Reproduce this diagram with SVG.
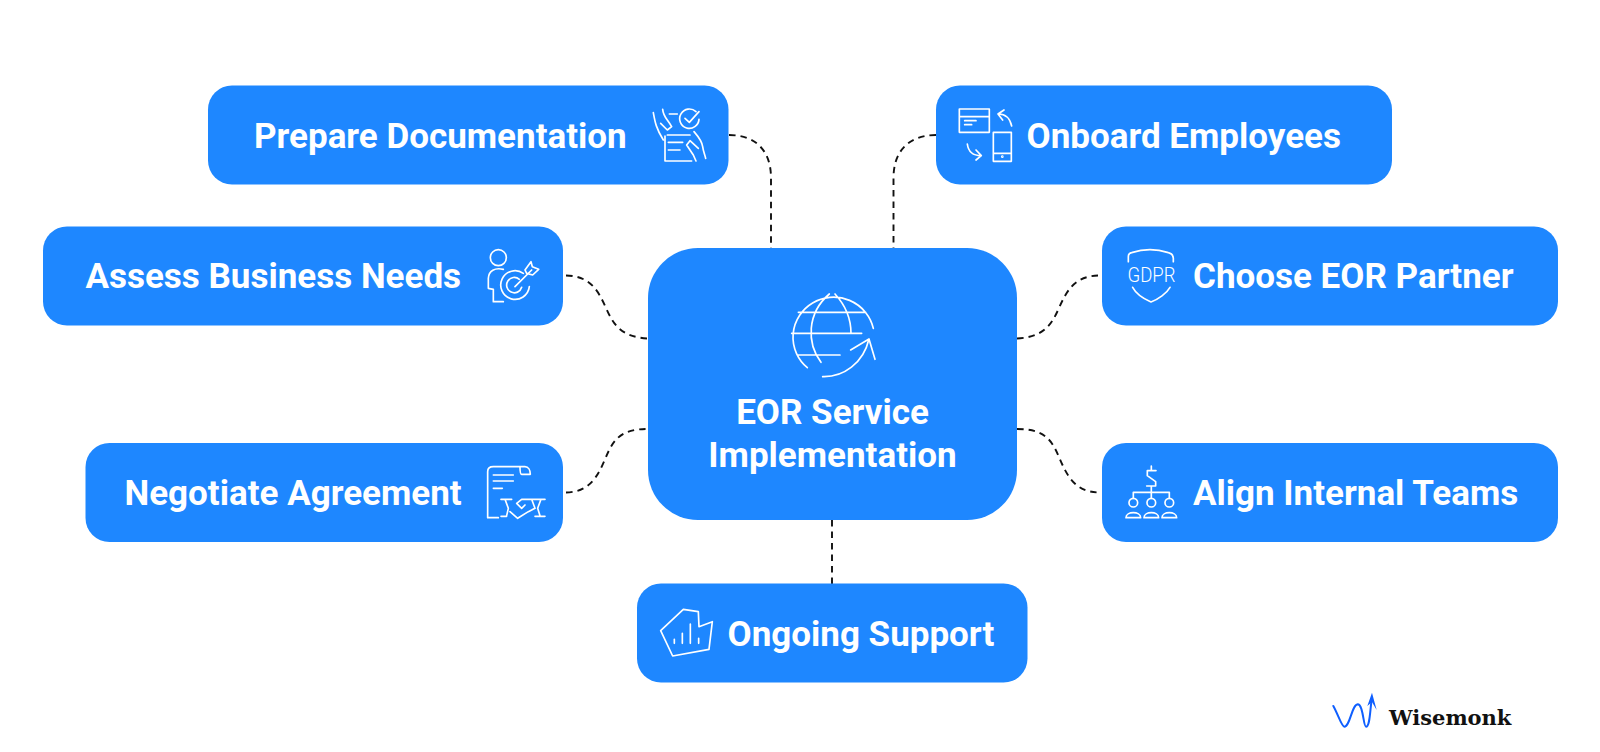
<svg xmlns="http://www.w3.org/2000/svg" width="1600" height="752" viewBox="0 0 1600 752">
<style>
.box{fill:#1e87ff}
.t{font-family:"Roboto","Liberation Sans",sans-serif;font-weight:700;font-size:35px;fill:#fff}
.ic{fill:none;stroke:#fff;stroke-width:5;stroke-linecap:round;stroke-linejoin:round}
.c{fill:none;stroke:#111;stroke-width:1.9;stroke-dasharray:6.5 5}
</style>
<rect width="1600" height="752" fill="#fff"/>
<g id="connectors">
<path class="c" d="M729 135C755 135 771 150 771 178V248"/>
<path class="c" d="M936 135C910 135 893.500 150 893.500 178V248"/>
<path class="c" d="M566 275.500C590 276 598 290 606 308C614 326 622 337 648 338.500"/>
<path class="c" d="M566 492.500C590 492 598 476 606 457C614 438 622 429 648 429"/>
<path class="c" d="M1017 338.500C1043 337 1051 326 1059 308C1067 290 1075 276 1099 275.500"/>
<path class="c" d="M1017 429C1043 429 1051 438 1059 457C1067 476 1075 492 1099 492.500"/>
<path class="c" d="M832 520V584"/>
</g>
<g id="center">
<rect class="box" x="648" y="248" width="369" height="272" rx="50"/>
<g class="ic" transform="translate(750 270) scale(.3333)">
<path d="M172 293A122 120 0 1 1 370 175M145 127H347M125 190H335M145 255H270M238 72C170 130 170 220 213 277M255 72C290 110 303 150 303 190M218 320C280 322 340 280 357 207M302 240L357 207L375 268"/>
</g>
<text class="t" x="832.500" y="424" text-anchor="middle">EOR Service</text>
<text class="t" x="832.500" y="467" text-anchor="middle">Implementation</text>
</g>
<g id="prepare">
<rect class="box" x="208" y="85.500" width="520.500" height="99" rx="24"/>
<text class="t" x="254" y="148">Prepare Documentation</text>
<g class="ic" transform="translate(630 90) scale(.3333)">
<path d="M198 65A29 29 0 1 0 207 88M165 85L178 97L207 65M118 72H142M70 68C75 95 78 115 100 150M98 58C100 80 110 85 125 110L112 120L92 100M105 138V213H185M112 135H180M115 157H158M115 180H150M192 125C205 140 215 150 218 170C220 185 225 195 227 205M205 175L180 152L170 165L190 195L198 213"/>
</g>
</g>
<g id="onboard">
<rect class="box" x="936" y="85.500" width="456" height="99" rx="24"/>
<text class="t" x="1026.500" y="148">Onboard Employees</text>
<g class="ic" transform="translate(930 90) scale(.3333)">
<path d="M88 57H178V127H88ZM88 80H178M104 92H138M104 104H125M245 108C240 85 225 72 205 72M222 60L204 72L218 90M190 127H244V214H190ZM190 190H244M112 162C115 185 130 197 153 197M138 180L154 197L138 210"/>
<circle cx="217" cy="200" r="1.500"/>
</g>
</g>
<g id="assess">
<rect class="box" x="43" y="226.500" width="520" height="99" rx="24"/>
<text class="t" x="85.500" y="288">Assess Business Needs</text>
<g class="ic" transform="translate(460 230) scale(.3333)">
<circle cx="115" cy="83" r="24"/>
<path d="M130 118C105 112 86 122 85 145V175L100 178V215H130M190 130A43 43 0 1 0 208 170M178 148A23 23 0 1 0 185 172M165 170L215 120M195 120L213 95L217 110L236 118L218 135L200 130Z"/>
</g>
</g>
<g id="choose">
<rect class="box" x="1102" y="226.500" width="456" height="99" rx="24"/>
<text class="t" x="1193" y="288">Choose EOR Partner</text>
<g class="ic" transform="translate(1090 230) scale(.3333)">
<path d="M115 95V80Q115 70 125 68Q180 50 235 68Q250 72 250 85V95M128 172C140 195 165 208 183 216C205 208 230 190 240 172"/>
</g>
<text x="1127.500" y="281.500" font-family="Roboto,sans-serif" font-weight="300" font-size="21" fill="#fff" textLength="48" lengthAdjust="spacingAndGlyphs">GDPR</text>
</g>
<g id="negotiate">
<rect class="box" x="85.500" y="443" width="477.500" height="99" rx="24"/>
<text class="t" x="124.500" y="505">Negotiate Agreement</text>
<g class="ic" transform="translate(465 445) scale(.3333)">
<path d="M100 218H68V80C68 70 75 65 85 65H180C190 65 196 75 196 88H170C165 88 165 72 165 65M85 90H145M85 108H145M85 130H112M108 163H140M200 163H240M120 163L130 190L125 212M108 214H125M228 163L218 190L225 212M240 214H210M135 200L158 220L190 200L210 190L200 163H170L155 175L170 190L180 180"/>
</g>
</g>
<g id="align">
<rect class="box" x="1102" y="443" width="456" height="99" rx="24"/>
<text class="t" x="1193" y="505">Align Internal Teams</text>
<g class="ic" transform="translate(990 410) scale(.3333)">
<path d="M498 182H472V197L497 215V228H470M484 168V180M484 228V265M430 265V247H538V265"/>
<circle cx="430" cy="278" r="13"/><circle cx="484" cy="278" r="13"/><circle cx="538" cy="278" r="13"/>
<path d="M408 323C408 303 452 303 452 323ZM462 323C462 303 506 303 506 323ZM516 323C516 303 560 303 560 323Z"/>
</g>
</g>
<g id="ongoing">
<rect class="box" x="637" y="583.500" width="390.500" height="99" rx="24"/>
<text class="t" x="727.500" y="645.500">Ongoing Support</text>
<g class="ic" transform="translate(620 560) scale(.3333)">
<path d="M122 212L190 148L235 155L237 200L277 185L267 268L158 288ZM163 238V250M187 220V250M211 192V250M236 235V250"/>
</g>
</g>
<g id="logo">
<g transform="translate(1290 670) scale(.3333)">
<path d="M130 108C145 135 155 170 163 170C180 170 185 105 203 103C220 103 220 170 228 170C240 170 240 120 245 90" fill="none" stroke="#0f5fff" stroke-width="6" stroke-linecap="round"/>
<path d="M246 68L232 108L246 96L260 120Z" fill="#0f5fff"/>
</g>
<text x="1389" y="725" font-family="DejaVu Serif,serif" font-weight="700" font-size="21" fill="#111">Wisemonk</text>
</g>
</svg>
